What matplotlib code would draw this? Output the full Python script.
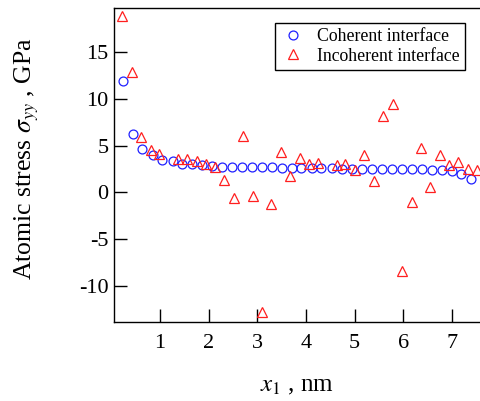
import matplotlib
matplotlib.use("Agg")
import matplotlib.pyplot as plt

plt.rcParams['font.family'] = ['Liberation Serif', 'DejaVu Serif']
plt.rcParams['mathtext.fontset'] = 'stix'

# coherent interface (blue circles)
coh_x = [0.24, 0.44, 0.64, 0.85, 1.05, 1.26, 1.46, 1.66, 1.87, 2.07,
         2.28, 2.48, 2.69, 2.89, 3.10, 3.30, 3.50, 3.71, 3.91, 4.12,
         4.32, 4.53, 4.74, 4.95, 5.16, 5.36, 5.57, 5.77, 5.97, 6.18,
         6.38, 6.59, 6.80, 7.00, 7.19, 7.40]
coh_y = [11.9, 6.2, 4.6, 3.95, 3.5, 3.3, 3.05, 2.98, 2.87, 2.78,
         2.72, 2.7, 2.7, 2.7, 2.68, 2.66, 2.62, 2.6, 2.58, 2.56,
         2.55, 2.55, 2.5, 2.48, 2.48, 2.47, 2.47, 2.46, 2.46, 2.46,
         2.45, 2.44, 2.34, 2.23, 1.91, 1.46]

# incoherent interface (red triangles)
inc_x = [0.22, 0.42, 0.60, 0.81, 0.99, 1.38, 1.56, 1.77, 1.94, 2.13,
         2.32, 2.52, 2.71, 2.91, 3.09, 3.29, 3.48, 3.67, 3.87, 4.07,
         4.25, 4.63, 4.81, 5.02, 5.20, 5.41, 5.59, 5.80, 5.97, 6.18,
         6.36, 6.56, 6.75, 6.95, 7.13, 7.33, 7.52]
inc_y = [18.8, 12.9, 5.9, 4.5, 4.1, 3.6, 3.6, 3.3, 3.05, 2.7,
         1.28, -0.57, 6.06, -0.39, -12.8, -1.2, 4.36, 1.8, 3.65, 3.05,
         3.12, 2.87, 3.05, 2.34, 4.04, 1.17, 8.2, 9.43, -8.4, -1.03,
         4.72, 0.57, 3.94, 2.94, 3.23, 2.52, 2.41]

xticks = [1, 2, 3, 4, 5, 6, 7]
yticks = [-10, -5, 0, 5, 10, 15]

fig = plt.figure(figsize=(4.8, 4.01), dpi=100)
ax = fig.add_axes([0.2375, 0.198, 0.7625, 0.781])

ax.plot(coh_x, coh_y, 'o', mfc='none', mec='#1f1fff', ms=6.4, mew=0.9,
        label='Coherent interface')
ax.plot(inc_x, inc_y, '^', mfc='none', mec='#ff1f1f', ms=7.0, mew=0.9,
        label='Incoherent interface')

ax.set_xlim(0.055, 7.58)
ax.set_ylim(-13.8, 19.64)
ax.set_xticks(xticks)
ax.set_yticks(yticks)
ax.set_yticklabels([str(v) for v in yticks])
ax.tick_params(direction='in', length=9.5, width=1, labelsize=16)
ax.tick_params(axis='y', pad=4)
ax.tick_params(axis='x', pad=9)
for s in ['left', 'bottom', 'top']:
    ax.spines[s].set_linewidth(1.0)
ax.spines['right'].set_visible(False)

ax.set_xlabel('$x_1$ , nm', fontsize=18)
ax.set_ylabel(r'Atomic stress $\sigma_{yy}$ , GPa', fontsize=18.5)
ax.xaxis.set_label_coords(0.5, -0.17)
ax.yaxis.set_label_coords(-0.2, 0.52)

leg = ax.legend(loc='upper right', bbox_to_anchor=(0.96, 0.955), fontsize=12.8,
                frameon=True, fancybox=False, edgecolor='black', framealpha=1,
                borderpad=0.3, handletextpad=0.6, labelspacing=0.15,
                handlelength=1.5, borderaxespad=0)
leg.get_frame().set_linewidth(1.0)

fig.savefig('out.png', dpi=100)
